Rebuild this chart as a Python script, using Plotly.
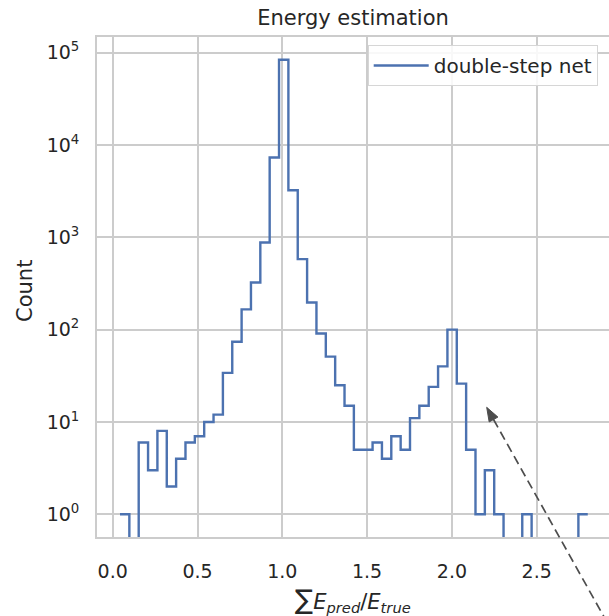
import plotly.graph_objects as go

# ---- data ----
bin_start = 0.043
bin_end = 2.801
n_bins = 50
counts = [1, 0, 6, 3, 8, 2, 4, 6, 7, 10,
          12, 34, 74, 166, 324, 880, 7330, 84000, 3240, 580,
          197, 91, 51, 25, 15, 5, 5, 6, 4, 7,
          5, 11, 15, 24, 40, 100, 26, 5, 1, 3,
          1, 0, 0, 1, 0, 0, 0, 0, 0, 1]
series_name = "double-step net"
x_ticks = [0.0, 0.5, 1.0, 1.5, 2.0, 2.5]
y_tick_exp = [0, 1, 2, 3, 4, 5]

W, H = 609, 616
L, R, T, B = 97, 0, 37, 79
TXT = "#262626"
GRID = "#cccccc"
FONT = "DejaVu Sans"

width = (bin_end - bin_start) / n_bins
edges = [bin_start + i * width for i in range(n_bins + 1)]
floor = 1e-3  # empty bins drop below the axis (log scale)
yvals = [c if c > 0 else floor for c in counts] + [counts[-1] if counts[-1] > 0 else floor]

fig = go.Figure()
fig.add_trace(go.Scatter(x=edges, y=yvals, mode="lines", line_shape="hv",
                         line=dict(color="#4c72b0", width=2.4), name=series_name,
                         showlegend=True))

pw, ph = W - L - R, H - T - B

def paper(px, py):
    return (px - L) / pw, (H - B - py) / ph

# dashed arrow (pointing at the second peak)
tip = (486.7, 407.3)
u = (0.4885, 0.8727)
nrm = (-u[1], u[0])
head_len, head_w = 14, 10
base = (tip[0] + head_len * u[0], tip[1] + head_len * u[1])
tail = (tip[0] + 320 * u[0], tip[1] + 320 * u[1])
bx0, by0 = paper(*base)
tx0, ty0 = paper(*tail)
fig.add_shape(type="line", xref="paper", yref="paper", x0=bx0, y0=by0, x1=tx0, y1=ty0,
              line=dict(color="#4d4d4d", width=1.7, dash="9px,5px"))
c1 = paper(base[0] + head_w / 2 * nrm[0], base[1] + head_w / 2 * nrm[1])
c2 = paper(base[0] - head_w / 2 * nrm[0], base[1] - head_w / 2 * nrm[1])
tp = paper(*tip)
fig.add_shape(type="path", xref="paper", yref="paper",
              path=f"M {tp[0]} {tp[1]} L {c1[0]} {c1[1]} L {c2[0]} {c2[1]} Z",
              fillcolor="#4d4d4d", line=dict(color="#4d4d4d", width=1))

# axis titles
fig.add_annotation(xref="paper", yref="paper", x=(25 - L) / pw, y=(H - B - 291) / ph,
                   text="Count", textangle=-90, showarrow=False,
                   font=dict(family=FONT, size=21, color=TXT),
                   xanchor="center", yanchor="middle")
fig.add_annotation(xref="paper", yref="paper", x=(353 - L) / pw, y=(H - B - 600) / ph,
                   text='<span style="font-size:27px">∑</span><i>E</i><sub><i>pred</i></sub>/<i>E</i><sub><i>true</i></sub>',
                   showarrow=False, font=dict(family=FONT, size=21, color=TXT),
                   xanchor="center", yanchor="middle")

x0px = 112.7
scale = 169.6
fig.update_layout(
    width=W, height=H, margin=dict(l=L, r=R, t=T, b=B, pad=0),
    paper_bgcolor="white", plot_bgcolor="white",
    font=dict(family=FONT, color=TXT),
    title=dict(text="Energy estimation", x=(353 - 0) / W, xanchor="center", xref="container",
               y=1 - 18 / H, yref="container", yanchor="middle",
               font=dict(family=FONT, size=21, color=TXT)),
    showlegend=True,
    legend=dict(x=(367.7 - L) / pw, y=(H - B - 45) / ph, xanchor="left", yanchor="top",
                bgcolor="rgba(255,255,255,0.85)", bordercolor="#d6d6d6", borderwidth=1,
                font=dict(family=FONT, size=20, color=TXT), itemwidth=55),
    xaxis=dict(range=[(L - x0px) / scale, (W - R - x0px) / scale],
               tickvals=x_ticks, ticktext=[f"{v:.1f}" for v in x_ticks],
               showgrid=True, gridcolor=GRID, gridwidth=1.5,
               showline=True, linecolor=GRID, linewidth=1.8, mirror=True,
               zeroline=False, ticks="", ticklabelstandoff=16,
               tickfont=dict(family=FONT, size=19, color=TXT)),
    yaxis=dict(type="log", range=[-0.246, 5.170],
               tickvals=[10 ** e for e in y_tick_exp],
               ticktext=[f"10<sup>{e}</sup>" for e in y_tick_exp],
               showgrid=True, gridcolor=GRID, gridwidth=1.5,
               showline=True, linecolor=GRID, linewidth=1.8, mirror=False,
               zeroline=False, ticks="", ticklabelstandoff=12,
               tickfont=dict(family=FONT, size=19, color=TXT)),
)

fig.write_html("out.html")
